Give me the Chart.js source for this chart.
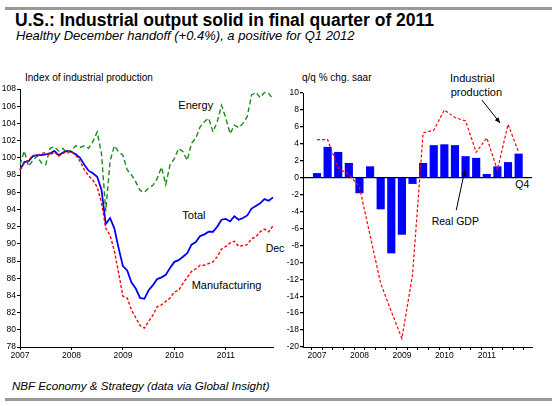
<!DOCTYPE html>
<html>
<head>
<meta charset="utf-8">
<script src="https://cdn.jsdelivr.net/npm/chart.js@4.4.1/dist/chart.umd.min.js"></script>
<style>
  body { margin: 0; background: #fff; }
  #page { position: relative; width: 552px; height: 406px; overflow: hidden; background: #fff; font-family: "Liberation Sans", Arial, sans-serif; }
  .bar { position: absolute; left: 5px; right: 0; height: 3px; background: #999; }
  .txt { position: absolute; white-space: nowrap; line-height: 1; color: #000; }
  canvas { position: absolute; }
</style>
</head>
<body>
<div id="page">
  <div class="bar" style="top:7px"></div>
  <div class="bar" style="top:398px"></div>
  <div id="labels"></div>
  <canvas id="leftChart" width="285" height="290" style="left:0;top:80px;width:285px;height:290px"></canvas>
  <canvas id="rightChart" width="272" height="290" style="left:280px;top:80px;width:272px;height:290px"></canvas>
</div>
<script>
// monthly index, Jan 2007 .. Dec 2011
const years = ['2007', '2008', '2009', '2010', '2011'];
const months = ['Jan', 'Feb', 'Mar', 'Apr', 'May', 'Jun', 'Jul', 'Aug', 'Sep', 'Oct', 'Nov', 'Dec'];

const manufacturing = [98.6, 99.4, 99.7, 100.3, 100.2, 100.5, 100.6, 100.3, 100.7, 100.2, 100.5, 100.8,
  100.7, 100.3, 99.6, 98.6, 97.9, 97.4, 96.6, 94.8, 91.8, 91.0, 89.2, 86.6,
  83.9, 83.7, 82.3, 81.4, 80.5, 80.2, 81.0, 81.7, 82.7, 82.9, 83.3, 83.7,
  84.4, 84.6, 85.4, 86.1, 86.8, 87.1, 87.5, 87.5, 87.7, 87.9, 88.5, 89.4,
  89.7, 90.1, 90.3, 89.7, 89.8, 89.9, 90.6, 90.8, 91.4, 91.7, 91.4, 92.1];

const total = [98.6, 99.5, 99.6, 100.2, 100.3, 100.3, 100.4, 100.5, 100.8, 100.3, 100.6, 100.8,
  100.7, 100.4, 100.0, 99.2, 98.5, 98.2, 97.8, 96.3, 92.3, 93.0, 91.8, 89.5,
  87.4, 86.9, 85.5, 84.8, 83.7, 83.6, 84.6, 85.2, 85.9, 86.1, 86.4, 87.2,
  87.9, 88.1, 88.5, 88.9, 89.9, 90.2, 90.9, 91.1, 91.4, 91.4, 92.0, 92.8,
  92.9, 92.6, 93.2, 92.8, 93.0, 93.3, 94.1, 94.4, 94.7, 95.2, 95.0, 95.4];

const energy = [99.2, 100.8, 99.0, 99.7, 100.2, 99.4, 99.2, 101.1, 101.3, 100.8, 101.1, 100.5,
  100.9, 101.4, 101.2, 101.4, 101.1, 101.9, 103.0, 100.5, 93.8, 99.6, 101.4, 100.7,
  100.3, 98.6, 98.0, 97.2, 96.2, 96.0, 96.5, 96.8, 97.6, 98.9, 96.9, 99.2,
  99.9, 101.1, 100.7, 99.7, 101.7, 102.3, 103.6, 104.2, 104.6, 103.0, 104.2, 106.1,
  104.6, 102.8, 103.8, 103.5, 104.0, 104.8, 107.3, 107.6, 107.0, 107.6, 107.5, 106.8];

// quarterly, Q1 2007 .. Q4 2011 (q/q % chg. saar)
const realGdp = [0.5, 3.6, 3.0, 1.7, -1.8, 1.3, -3.7, -8.9, -6.7, -0.7,
  1.7, 3.8, 3.9, 3.8, 2.5, 2.3, 0.4, 1.3, 1.8, 2.8];
const indProd = [4.5, 4.5, 1.1, 0.4, -1.1, -6.8, -12.5, -15.8, -19.0, -11.5,
  5.3, 5.6, 8.0, 7.1, 6.7, 3.0, 4.7, 0.9, 6.3, 3.0];

const monthLabels = [];
years.forEach(y => months.forEach(m => monthLabels.push(m + ' ' + y)));

const tickFont = { family: '"Liberation Sans Narrow", "Arial Narrow", Arial, sans-serif', size: 8.5 };

// text placed by baseline
const texts = [
  { t: 'U.S.: Industrial output solid in final quarter of 2011', x: 15, b: 26.7, s: 17.5, w: 'bold' },
  { t: 'Healthy December handoff (+0.4%), a positive for Q1 2012', x: 16, b: 40.5, s: 13, i: true },
  { t: 'NBF Economy & Strategy (data via Global Insight)', x: 12, b: 389.6, s: 11.6, i: true },
  { t: 'Index of industrial production', x: 25, b: 81.2, s: 10 },
  { t: 'q/q % chg. saar', x: 302, b: 81.7, s: 10 },
  { t: 'Energy', x: 178.3, b: 109.6, s: 11 },
  { t: 'Total', x: 182.3, b: 219.6, s: 11 },
  { t: 'Manufacturing', x: 191.7, b: 288.9, s: 11 },
  { t: 'Dec', x: 265.7, b: 252.2, s: 10.5 },
  { t: 'Industrial', x: 450, b: 81.9, s: 11 },
  { t: 'production', x: 450.7, b: 96.2, s: 11 },
  { t: 'Real GDP', x: 431.7, b: 224.6, s: 10.5 },
  { t: 'Q4', x: 515.3, b: 188, s: 10.5 }
];
const labelBox = document.getElementById('labels');
texts.forEach(o => {
  const d = document.createElement('div');
  d.className = 'txt';
  d.textContent = o.t;
  d.style.left = o.x + 'px';
  d.style.top = (o.b - 0.8465 * o.s) + 'px';
  d.style.fontSize = o.s + 'px';
  if (o.w) d.style.fontWeight = o.w;
  if (o.i) d.style.fontStyle = 'italic';
  labelBox.appendChild(d);
});

function fixWidth(w) {
  return s => { s.width = w; s.paddingTop = 0; s.paddingBottom = 0; };
}
function fixHeight(h) {
  return s => { s.height = h; s.paddingLeft = 0; s.paddingRight = 0; };
}

// left: index of industrial production
new Chart(document.getElementById('leftChart'), {
  type: 'line',
  data: {
    labels: monthLabels,
    datasets: [
      { label: 'Manufacturing', data: manufacturing, borderColor: '#ff0000', borderWidth: 1.4, borderDash: [3, 2] },
      { label: 'Total', data: total, borderColor: '#0000ff', borderWidth: 1.8 },
      { label: 'Energy', data: energy, borderColor: '#1a8a1a', borderWidth: 1.4, borderDash: [5, 3] }
    ]
  },
  options: {
    responsive: false,
    animation: false,
    devicePixelRatio: 1,
    layout: { padding: { top: 9, right: 12, left: 0, bottom: 0 } },
    elements: { point: { radius: 0 }, line: { tension: 0 } },
    plugins: { legend: { display: false }, tooltip: { enabled: false } },
    scales: {
      x: {
        type: 'category',
        afterFit: fixHeight(23),
        border: { display: true, color: '#000', width: 1 },
        grid: {
          drawOnChartArea: false, tickLength: 3,
          tickColor: c => (c.index % 12 === 0 ? '#000' : 'rgba(0,0,0,0)')
        },
        ticks: {
          autoSkip: false, maxRotation: 0, minRotation: 0, padding: 1,
          color: '#000', font: tickFont,
          callback: (v, i) => (i % 12 === 0 ? years[i / 12] : '')
        }
      },
      y: {
        min: 78, max: 108,
        afterFit: fixWidth(20),
        border: { display: true, color: '#000', width: 1 },
        grid: { drawOnChartArea: false, tickLength: 3, tickColor: '#000' },
        ticks: { stepSize: 2, autoSkip: false, padding: 1, color: '#000', font: tickFont }
      }
    }
  }
});

// arrows for the right panel, anchored in data space
const arrows = [
  { from: [15.54, 9.17], to: [17.25, 6.45] },
  { from: [13.12, -3.85], to: [13.93, 0.89] }
];
const arrowPlugin = {
  id: 'arrows',
  afterDatasetsDraw(chart) {
    const ctx = chart.ctx, xs = chart.scales.x, ys = chart.scales.y;
    ctx.save();
    ctx.strokeStyle = '#000';
    ctx.fillStyle = '#000';
    ctx.lineWidth = 1;
    arrows.forEach(a => {
      const x0 = xs.getPixelForValue(a.from[0]), y0 = ys.getPixelForValue(a.from[1]);
      const x1 = xs.getPixelForValue(a.to[0]), y1 = ys.getPixelForValue(a.to[1]);
      const ang = Math.atan2(y1 - y0, x1 - x0);
      ctx.beginPath();
      ctx.moveTo(x0, y0);
      ctx.lineTo(x1, y1);
      ctx.stroke();
      ctx.beginPath();
      ctx.moveTo(x1, y1);
      ctx.lineTo(x1 - 6 * Math.cos(ang - 0.4), y1 - 6 * Math.sin(ang - 0.4));
      ctx.lineTo(x1 - 6 * Math.cos(ang + 0.4), y1 - 6 * Math.sin(ang + 0.4));
      ctx.closePath();
      ctx.fill();
    });
    ctx.restore();
  }
};

// right: real GDP bars and industrial production line
new Chart(document.getElementById('rightChart'), {
  type: 'bar',
  data: {
    datasets: [
      {
        type: 'line', label: 'Industrial production', order: 0,
        data: indProd.map((v, i) => ({ x: i, y: v })),
        borderColor: '#ff0000', borderWidth: 1.2, borderDash: [3, 2],
        pointRadius: 0, tension: 0
      },
      {
        label: 'Real GDP', order: 1,
        data: realGdp.map((v, i) => ({ x: i, y: v })),
        backgroundColor: '#0000ff', barThickness: 7.5
      }
    ]
  },
  options: {
    responsive: false,
    animation: false,
    devicePixelRatio: 1,
    layout: { padding: { top: 13, right: 20, left: 0, bottom: 0 } },
    plugins: { legend: { display: false }, tooltip: { enabled: false } },
    scales: {
      x: {
        type: 'linear', min: -0.78, max: 19.72,
        afterFit: fixHeight(23),
        afterBuildTicks: s => { s.ticks = realGdp.map((v, i) => ({ value: i })); },
        border: { display: true, color: '#000', width: 1 },
        grid: { drawOnChartArea: false, tickLength: 3, tickColor: '#000' },
        ticks: {
          autoSkip: false, maxRotation: 0, minRotation: 0, padding: 1,
          color: '#000', font: tickFont,
          callback: v => (v % 4 === 0 ? years[v / 4] : '')
        }
      },
      y: {
        min: -20, max: 10,
        afterFit: fixWidth(23),
        border: { display: true, color: '#000', width: 1 },
        grid: {
          tickLength: 3, tickColor: '#000', lineWidth: 1.3,
          color: c => (c.tick && c.tick.value === 0 ? '#000' : 'rgba(0,0,0,0)')
        },
        ticks: { stepSize: 2, autoSkip: false, padding: 1, color: '#000', font: tickFont }
      }
    }
  },
  plugins: [arrowPlugin]
});
</script>
</body>
</html>
